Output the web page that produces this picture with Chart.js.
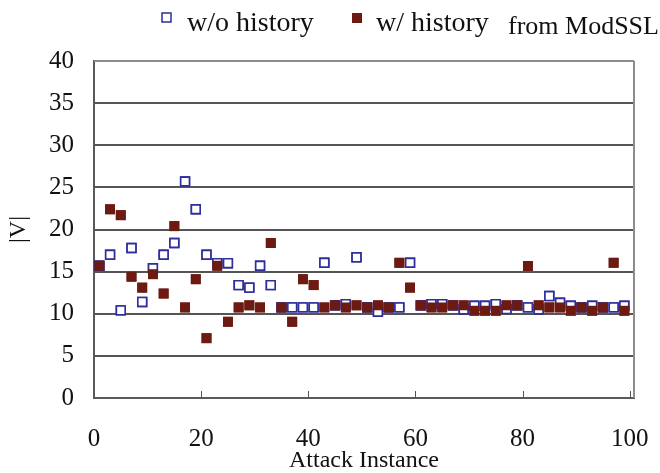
<!DOCTYPE html>
<html>
<head>
<meta charset="utf-8">
<script src="https://cdn.jsdelivr.net/npm/chart.js@4/dist/chart.umd.min.js"></script>
<style>
  html, body { margin: 0; padding: 0; background: #fff; }
</style>
</head>
<body>
<canvas id="c" width="660" height="473"></canvas>
<script>
// Attack instances (x) and the |V| size measured for each run
const instances = [1, 3, 5, 7, 9, 11, 13, 15, 17, 19, 21, 23, 25, 27, 29, 31, 33, 35, 37, 39,
                   41, 43, 45, 47, 49, 51, 53, 55, 57, 59, 61, 63, 65, 67, 69, 71, 73, 75, 77, 79,
                   81, 83, 85, 87, 89, 91, 93, 95, 97, 99];
const withoutHistory = [15.7, 17.0, 10.4, 17.8, 11.4, 15.4, 17.0, 18.4, 25.7, 22.4,
                        17.0, 16.0, 16.0, 13.4, 13.1, 15.7, 13.4, 10.75, 10.75, 10.75,
                        10.75, 16.05, 11.0, 11.15, 16.7, 10.75, 10.24, 10.75, 10.75, 16.05,
                        11.0, 11.15, 11.15, 11.0, 10.5, 10.95, 10.95, 11.15, 10.55, 11.0,
                        10.75, 10.5, 12.1, 11.3, 10.95, 10.75, 10.95, 10.75, 10.75, 10.95];
const withHistory = [15.7, 22.4, 21.7, 14.4, 13.1, 14.7, 12.4, 20.4, 10.75, 14.1,
                     7.1, 15.7, 9.05, 10.75, 11.0, 10.75, 18.4, 10.75, 9.05, 14.1,
                     13.4, 10.75, 11.0, 10.75, 11.0, 10.75, 11.0, 10.75, 16.05, 13.1,
                     11.0, 10.75, 10.75, 11.0, 11.0, 10.36, 10.36, 10.36, 11.0, 11.0,
                     15.66, 11.0, 10.75, 10.75, 10.36, 10.75, 10.36, 10.75, 16.05, 10.36];
const xTickValues = [0, 20, 40, 60, 80, 100];
const yTickValues = [0, 5, 10, 15, 20, 25, 30, 35, 40];
const seriesLabels = ['w/o history', 'w/ history'];
const noteText = 'from ModSSL';
const xTitle = 'Attack Instance';
const yTitle = '|V|';

const SERIF = '"Liberation Serif", "DejaVu Serif", serif';
const BLUE = '#2e2e9c';
const RED = '#6c1a12';
const GRID = '#555555';

const toPoints = vals => instances.map((x, i) => ({ x: x, y: vals[i] }));

// Horizontal grid bands at each y tick, top/right frame and short inward x tick marks;
// the markers are then painted again so they sit above the grid.
const framePlugin = {
  id: 'plotFrame',
  afterDraw(chart) {
    const ctx = chart.ctx;
    const a = chart.chartArea;
    const ys = chart.scales.y;
    const xs = chart.scales.x;
    ctx.save();
    ctx.fillStyle = GRID;
    for (const v of yTickValues) {
      if (v === 0 || v === 40) continue;
      const py = Math.round(ys.getPixelForValue(v));
      ctx.fillRect(a.left, py - 1, a.right - a.left, 2);
    }
    ctx.fillStyle = '#8c8c8c';
    ctx.fillRect(a.left, Math.round(a.top) - 1, a.right - a.left, 2);
    ctx.fillRect(Math.round(a.right) - 1, a.top, 2, a.bottom - a.top);
    ctx.fillStyle = '#555';
    for (const v of xTickValues) {
      if (v === 0) continue;
      const px = Math.round(xs.getPixelForValue(v));
      ctx.fillRect(px, a.bottom - 7, 1, 7);
    }
    ctx.restore();
    // markers above the grid: hollow series first, filled series on top
    [0, 1].forEach(i => {
      chart.getDatasetMeta(i).data.forEach(el => el.draw(ctx, a));
    });
  }
};

// Legend row across the top, plus the source note
const legendPlugin = {
  id: 'topLegend',
  afterDraw(chart) {
    const { ctx } = chart;
    ctx.save();
    ctx.textBaseline = 'alphabetic';
    ctx.font = '28px ' + SERIF;
    ctx.strokeStyle = BLUE;
    ctx.lineWidth = 1.5;
    ctx.fillStyle = '#fff';
    ctx.fillRect(162, 13, 9, 9);
    ctx.strokeRect(162, 13, 9, 9);
    ctx.fillStyle = '#111';
    ctx.fillText(seriesLabels[0], 187, 31);
    ctx.fillStyle = RED;
    ctx.fillRect(352, 13, 10, 10);
    ctx.fillStyle = '#111';
    ctx.fillText(seriesLabels[1], 376, 31);
    ctx.font = '26px ' + SERIF;
    ctx.fillText(noteText, 508, 34);
    ctx.restore();
  }
};

new Chart(document.getElementById('c'), {
  type: 'scatter',
  data: {
    datasets: [
      {
        label: seriesLabels[0],
        data: toPoints(withoutHistory),
        pointStyle: 'rect',
        pointRadius: 6.2,
        borderWidth: 1.6,
        borderColor: BLUE,
        backgroundColor: '#fff',
        order: 1
      },
      {
        label: seriesLabels[1],
        data: toPoints(withHistory),
        pointStyle: 'rect',
        pointRadius: 7,
        borderWidth: 0,
        borderColor: RED,
        backgroundColor: RED,
        order: 0
      }
    ]
  },
  options: {
    responsive: false,
    devicePixelRatio: 1,
    animation: false,
    layout: { padding: { top: 61, right: 26, left: 0, bottom: 0 } },
    plugins: {
      legend: { display: false },
      tooltip: { enabled: false }
    },
    scales: {
      x: {
        type: 'linear',
        min: 0,
        max: 100.8,
        afterBuildTicks: scale => { scale.ticks = xTickValues.map(v => ({ value: v })); },
        afterFit: scale => { scale.height = 75; scale.paddingLeft = 0; scale.paddingRight = 0; },
        grid: { display: false },
        border: { display: true, color: '#5a5a5a', width: 2 },
        ticks: { padding: 18, color: '#111', font: { family: SERIF, size: 25 } },
        title: {
          display: true, text: xTitle, color: '#111',
          font: { family: SERIF, size: 24, lineHeight: 1 },
          padding: { top: 0, bottom: 0 }
        }
      },
      y: {
        min: 0,
        max: 40,
        afterBuildTicks: scale => { scale.ticks = yTickValues.map(v => ({ value: v })); },
        afterFit: scale => { scale.width = 94; },
        grid: { display: false, drawTicks: false },
        border: { display: true, color: '#5a5a5a', width: 2 },
        ticks: { padding: 20, color: '#111', font: { family: SERIF, size: 25 } },
        title: {
          display: true, text: yTitle, color: '#111',
          font: { family: SERIF, size: 24 },
          padding: { top: 4, bottom: 0 }
        }
      }
    }
  },
  plugins: [framePlugin, legendPlugin]
});
</script>
</body>
</html>
